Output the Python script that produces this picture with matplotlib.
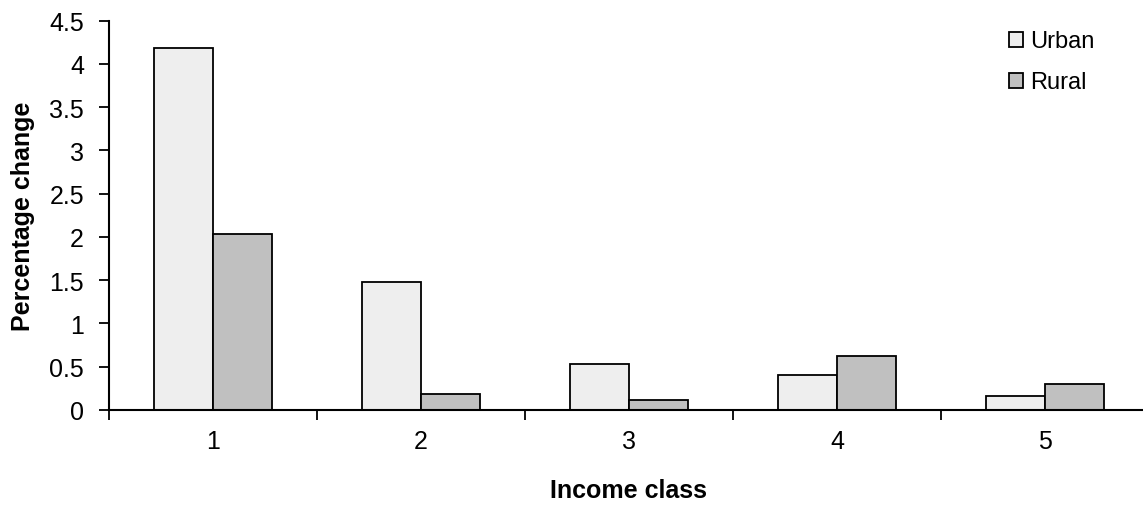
import matplotlib.pyplot as plt
import numpy as np

plt.rcParams['font.family'] = ['Liberation Sans', 'DejaVu Sans']

classes = ["1", "2", "3", "4", "5"]
urban = [4.18, 1.48, 0.53, 0.41, 0.16]
rural = [2.03, 0.18, 0.11, 0.62, 0.30]

x = np.arange(1, len(classes) + 1)
w = 0.284

fig = plt.figure(figsize=(11.43, 5.06), dpi=100)
ax = fig.add_axes([109 / 1143, 1 - 411 / 506, 1040 / 1143, (411 - 21.5) / 506])

ax.bar(x - w / 2, urban, w, color="#eeeeee", edgecolor="black", linewidth=1.3, label="Urban")
ax.bar(x + w / 2, rural, w, color="#c0c0c0", edgecolor="black", linewidth=1.3, label="Rural")

ax.set_xlim(0.5, 5.5)
ax.set_ylim(0, 4.5)
ax.set_yticks(np.arange(0, 4.51, 0.5))
ax.set_yticklabels(["0", "0.5", "1", "1.5", "2", "2.5", "3", "3.5", "4", "4.5"])
ax.set_xticks(x)
ax.set_xticklabels(classes)
ax.set_xticks(np.arange(0.5, 5.6, 1), minor=True)
ax.tick_params(axis="x", which="major", length=0, pad=14, labelsize=18)
ax.tick_params(axis="x", which="minor", length=7, width=1.3, direction="out")
ax.tick_params(axis="y", length=7, width=1.3, labelsize=18, pad=11)

for s in ["top", "right"]:
    ax.spines[s].set_visible(False)
for s in ["left", "bottom"]:
    ax.spines[s].set_linewidth(1.5)

ax.set_ylabel("Percentage change", fontsize=18, fontweight="bold", labelpad=10)
ax.set_xlabel("Income class", fontsize=18, fontweight="bold", labelpad=18)

ax.legend(loc="upper right", bbox_to_anchor=(1104 / 1143, 1 - 22 / 506), bbox_transform=fig.transFigure,
          frameon=False, fontsize=17, handlelength=0.6, handleheight=0.6,
          handletextpad=0.3, labelspacing=0.8, borderaxespad=0)

fig.savefig("out.png", dpi=100)
